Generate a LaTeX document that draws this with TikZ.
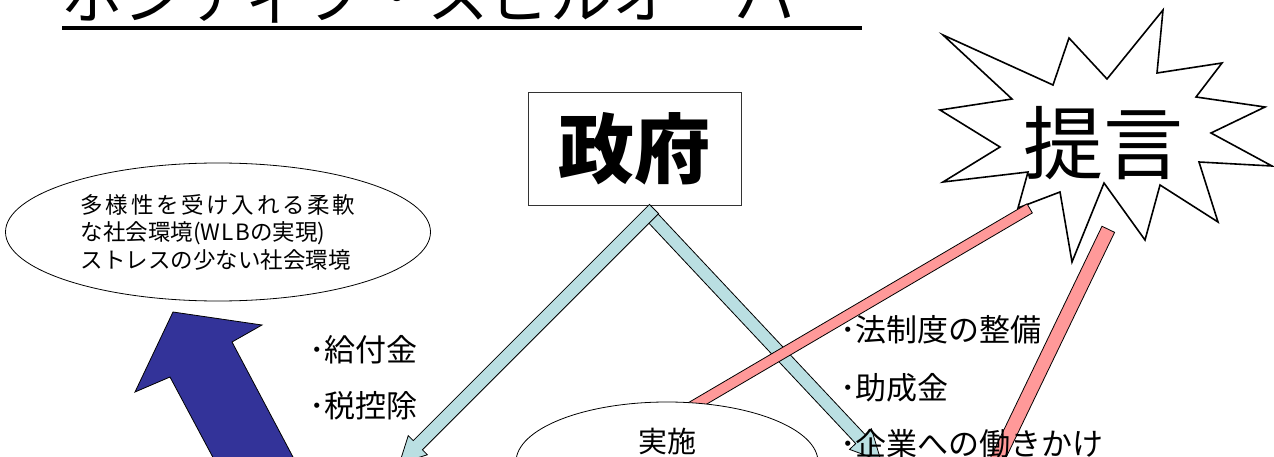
\documentclass[tikz,border=0pt]{standalone}
\usepackage{fontspec}
\newfontfamily\jp{Noto Sans CJK JP}
\usetikzlibrary{calc,shapes.geometric}
\definecolor{deepblue}{RGB}{51,51,153}
\definecolor{paleblue}{RGB}{186,223,226}
\definecolor{pinkbar}{RGB}{255,153,153}
\newcommand\blockarrow[7]{%
  \coordinate (#7-s) at (#2);
  \coordinate (#7-t) at (#3);
  \coordinate (#7-h) at ($(#7-t)!#6!(#7-s)$);
  \draw[#1] ($(#7-s)!#4!90:(#7-t)$) -- ($(#7-h)!#4!90:(#7-t)$) -- ($(#7-h)!#5!90:(#7-t)$)
    -- (#7-t) -- ($(#7-h)!#5!-90:(#7-t)$) -- ($(#7-h)!#4!-90:(#7-t)$) -- ($(#7-s)!#4!-90:(#7-t)$) -- cycle;
}
\newcommand\slab[5]{%
  \coordinate (#5-a) at (#2);
  \coordinate (#5-b) at (#3);
  \draw[#1] ($(#5-a)!#4!90:(#5-b)$) -- ($(#5-a)!#4!-90:(#5-b)$) -- ($(#5-b)!#4!90:(#5-a)$) -- ($(#5-b)!#4!-90:(#5-a)$) -- cycle;
}
\tikzset{
  thinline/.style={line width=0.8pt},
  paleshaft/.style={fill=paleblue, draw=black, line width=0.8pt},
  pinkshaft/.style={fill=pinkbar, draw=black, line width=0.8pt},
  bullettext/.style={anchor=west, inner sep=0pt, font=\jp\fontsize{31}{31}\selectfont},
}
\begin{document}
\begin{tikzpicture}[x=1pt,y=-1pt]
\useasboundingbox (0,0) rectangle (1274,457);
\clip (0,0) rectangle (1274,457);
\fill[white] (0,0) rectangle (1274,457);

% title
\node[anchor=base west, inner sep=0pt, font=\jp\fontsize{61.5}{62}\selectfont] (title) at (62,19) {ポジティブ・スピルオーバー};
\draw[line width=4pt] (62,28) -- (862,28);

% government box
\node[draw=black!80, thinline, minimum width=213pt, minimum height=113pt, inner sep=0pt,
      font=\jp\bfseries\fontsize{76}{76}\selectfont] (gov) at (634.5,148.5) {政府};

% starburst
\draw[fill=white, line width=1.6pt, line join=miter]
  (943,35) -- (1053,85) -- (1069,38) -- (1107,79) -- (1163,10) -- (1157,73)
  -- (1222,63) -- (1196,97) -- (1265,107) -- (1211,133) -- (1272,166) -- (1199,162)
  -- (1218,222) -- (1160,185) -- (1145,240) -- (1104,183) -- (1072,262) -- (1060,192)
  -- (1018,208) -- (1028,172) -- (943,182) -- (1000,147) -- (940,110) -- (1012,99) -- cycle;
\node[inner sep=0pt, font=\jp\fontsize{80}{80}\selectfont] (prop) at (1103,143) {提言};

% goal ellipse
\node[draw, ellipse, thinline, minimum width=425pt, minimum height=138pt, inner sep=0pt,
      align=left, font=\jp\fontsize{22.5}{27.5}\selectfont] (goal) at (218,232)
  {{\addfontfeature{LetterSpace=12}多様性を受け入れる柔軟}\\な社会環境({\addfontfeature{LetterSpace=6}WLB}の実現)\\ストレスの少ない社会環境};

% big blue arrow
\draw[fill=deepblue, draw=black, thinline] (173,312) -- (262,325) -- (232,342) -- (320,508)
  -- (240,508) -- (170,377) -- (135,392) -- cycle;

% pale blue arrows
\blockarrow{paleshaft}{652,217}{881,461}{6.5pt}{15pt}{30pt}{rarrow}
\blockarrow{paleshaft}{654,209}{399.4,463.6}{6.5pt}{13.5pt}{26pt}{larrow}

% pink bars
\slab{pinkshaft}{1029.7,208.4}{684.9,410.8}{5.25pt}{pinka}
\slab{pinkshaft}{1108.3,229.3}{978,499.6}{7pt}{pinkb}

% implementation ellipse
\node[draw, ellipse, fill=white, thinline, minimum width=302pt, minimum height=120pt] (impl) at (667,462) {};
\node[inner sep=0pt, font=\jp\fontsize{29}{29}\selectfont] (impltext) at (667,441) {実施};

% bullet texts
\node[bullettext] (b1) at (309,350) {･給付金};
\node[bullettext] (b2) at (309,406) {･税控除};
\node[bullettext] (b3) at (840,330) {･法制度の整備};
\node[bullettext] (b4) at (840,388) {･助成金};
\node[bullettext] (b5) at (840,444) {･企業への働きかけ};
\end{tikzpicture}
\end{document}
